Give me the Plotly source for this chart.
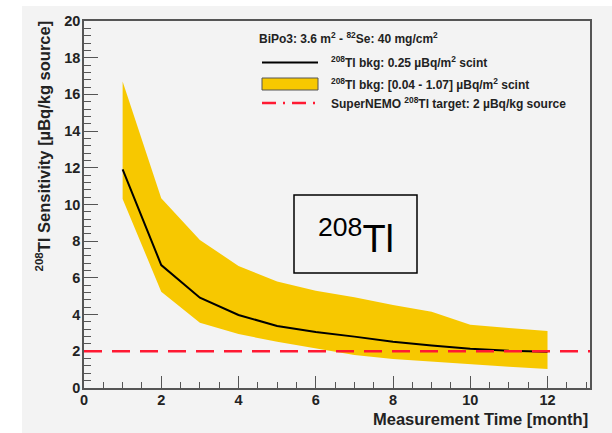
import plotly.graph_objects as go

# ---- data ----
months = [1, 2, 3, 4, 5, 6, 7, 8, 9, 10, 11, 12]
central = [11.92, 6.70, 4.92, 3.98, 3.38, 3.05, 2.80, 2.52, 2.31, 2.14, 2.03, 1.97]
band_upper = [16.7, 10.34, 8.07, 6.65, 5.8, 5.3, 4.94, 4.52, 4.16, 3.45, 3.27, 3.1]
band_lower = [10.3, 5.25, 3.56, 2.94, 2.52, 2.16, 1.8, 1.58, 1.43, 1.29, 1.16, 1.04]
target = 2.0

header_text = "BiPo3: 3.6 m<sup>2</sup> - <sup>82</sup>Se: 40 mg/cm<sup>2</sup>"
legend_texts = [
    "<sup>208</sup>Tl bkg: 0.25 µBq/m<sup>2</sup> scint",
    "<sup>208</sup>Tl bkg: [0.04 - 1.07] µBq/m<sup>2</sup> scint",
    "SuperNEMO <sup>208</sup>Tl target: 2 µBq/kg source",
]

W, H = 612, 433
L, R, T, B = 84, 22, 21, 45
PW, PH = W - L - R, H - T - B


def px(xp):
    return (xp - L) / PW


def py(yp):
    return (H - B - yp) / PH


GOLD = "rgb(247,200,0)"
RED = "rgb(255,25,50)"
BG = "#f3f3f3"
FRAME = "#555555"
FONT = "Liberation Sans"

fig = go.Figure()
fig.add_trace(go.Scatter(x=months, y=band_lower, mode="lines",
                         line=dict(width=0, color=GOLD), showlegend=False,
                         hoverinfo="skip"))
fig.add_trace(go.Scatter(x=months, y=band_upper, mode="lines", fill="tonexty",
                         fillcolor=GOLD, line=dict(width=0, color=GOLD),
                         showlegend=False))
fig.add_trace(go.Scatter(x=months, y=central, mode="lines",
                         line=dict(color="black", width=2), showlegend=False))

shapes = []
shapes.append(dict(type="rect", xref="paper", yref="paper",
                   x0=px(22), x1=px(W), y0=py(H), y1=py(6),
                   fillcolor=BG, line=dict(width=0), layer="below"))
shapes.append(dict(type="line", xref="paper", yref="y", x0=0, x1=1,
                   y0=target, y1=target,
                   line=dict(color=RED, width=2.5, dash="18px,10px"),
                   layer="above"))
shapes.append(dict(type="rect", xref="paper", yref="paper",
                   x0=px(294), x1=px(417), y0=py(273), y1=py(195),
                   line=dict(color="black", width=1.5), fillcolor="rgba(0,0,0,0)"))
shapes.append(dict(type="line", xref="paper", yref="paper",
                   x0=px(262), x1=px(318), y0=py(62.5), y1=py(62.5),
                   line=dict(color="black", width=2)))
shapes.append(dict(type="rect", xref="paper", yref="paper",
                   x0=px(262), x1=px(318), y0=py(90), y1=py(78),
                   fillcolor=GOLD, line=dict(color="#555", width=1)))
shapes.append(dict(type="line", xref="paper", yref="paper",
                   x0=px(262), x1=px(318), y0=py(103), y1=py(103),
                   line=dict(color=RED, width=2.5, dash="14px,7px,2px,7px")))

annotations = []
annotations.append(dict(text=header_text, xref="paper", yref="paper",
                        x=px(257), y=py(38), xanchor="left", yanchor="middle",
                        showarrow=False,
                        font=dict(family=FONT, size=12, color="#222", weight="bold")))
for t, yy in zip(legend_texts, [62.5, 84, 103]):
    annotations.append(dict(text=t, xref="paper", yref="paper",
                            x=px(329), y=py(yy), xanchor="left", yanchor="middle",
                            showarrow=False,
                            font=dict(family=FONT, size=12, color="#222", weight="bold")))
annotations.append(dict(text="<sup>208</sup>Tl", xref="paper", yref="paper",
                        x=px(355.5), y=py(236), xanchor="center", yanchor="middle",
                        showarrow=False,
                        font=dict(family=FONT, size=38, color="black")))
annotations.append(dict(text="<sup>208</sup>Tl Sensitivity [µBq/kg source]",
                        xref="paper", yref="paper", x=px(44), y=py(19),
                        xanchor="center", yanchor="top", textangle=-90,
                        showarrow=False,
                        font=dict(family=FONT, size=16.5, color="#222", weight="bold")))
annotations.append(dict(text="Measurement Time [month]",
                        xref="paper", yref="paper", x=1.0, y=py(419),
                        xanchor="right", yanchor="middle",
                        showarrow=False,
                        font=dict(family=FONT, size=16.5, color="#222", weight="bold")))

fig.update_layout(
    width=W, height=H,
    margin=dict(l=L, r=R, t=T, b=B, autoexpand=False),
    paper_bgcolor="white", plot_bgcolor=BG,
    shapes=shapes, annotations=annotations,
    showlegend=False,
)
axis_common = dict(showgrid=False, zeroline=False, showline=True, mirror=True,
                   linecolor=FRAME, linewidth=1.5, ticks="inside",
                   tickcolor=FRAME, tickwidth=1, automargin=False,
                   tickfont=dict(family=FONT, size=14.5, color="#222", weight="bold"))
fig.update_xaxes(range=[0, 13.1], dtick=2, tick0=0, ticklen=12,
                 ticklabelstandoff=-2,
                 minor=dict(dtick=0.5, ticklen=6, ticks="inside", tickcolor=FRAME),
                 **axis_common)
fig.update_yaxes(range=[0, 20], dtick=2, tick0=0, ticklen=14,
                 ticklabelstandoff=-1,
                 minor=dict(dtick=0.4, ticklen=7, ticks="inside", tickcolor=FRAME),
                 **axis_common)

fig.write_html("out.html", config={"displayModeBar": False},
               post_script="document.body.style.margin='0';document.body.style.padding='0';")
